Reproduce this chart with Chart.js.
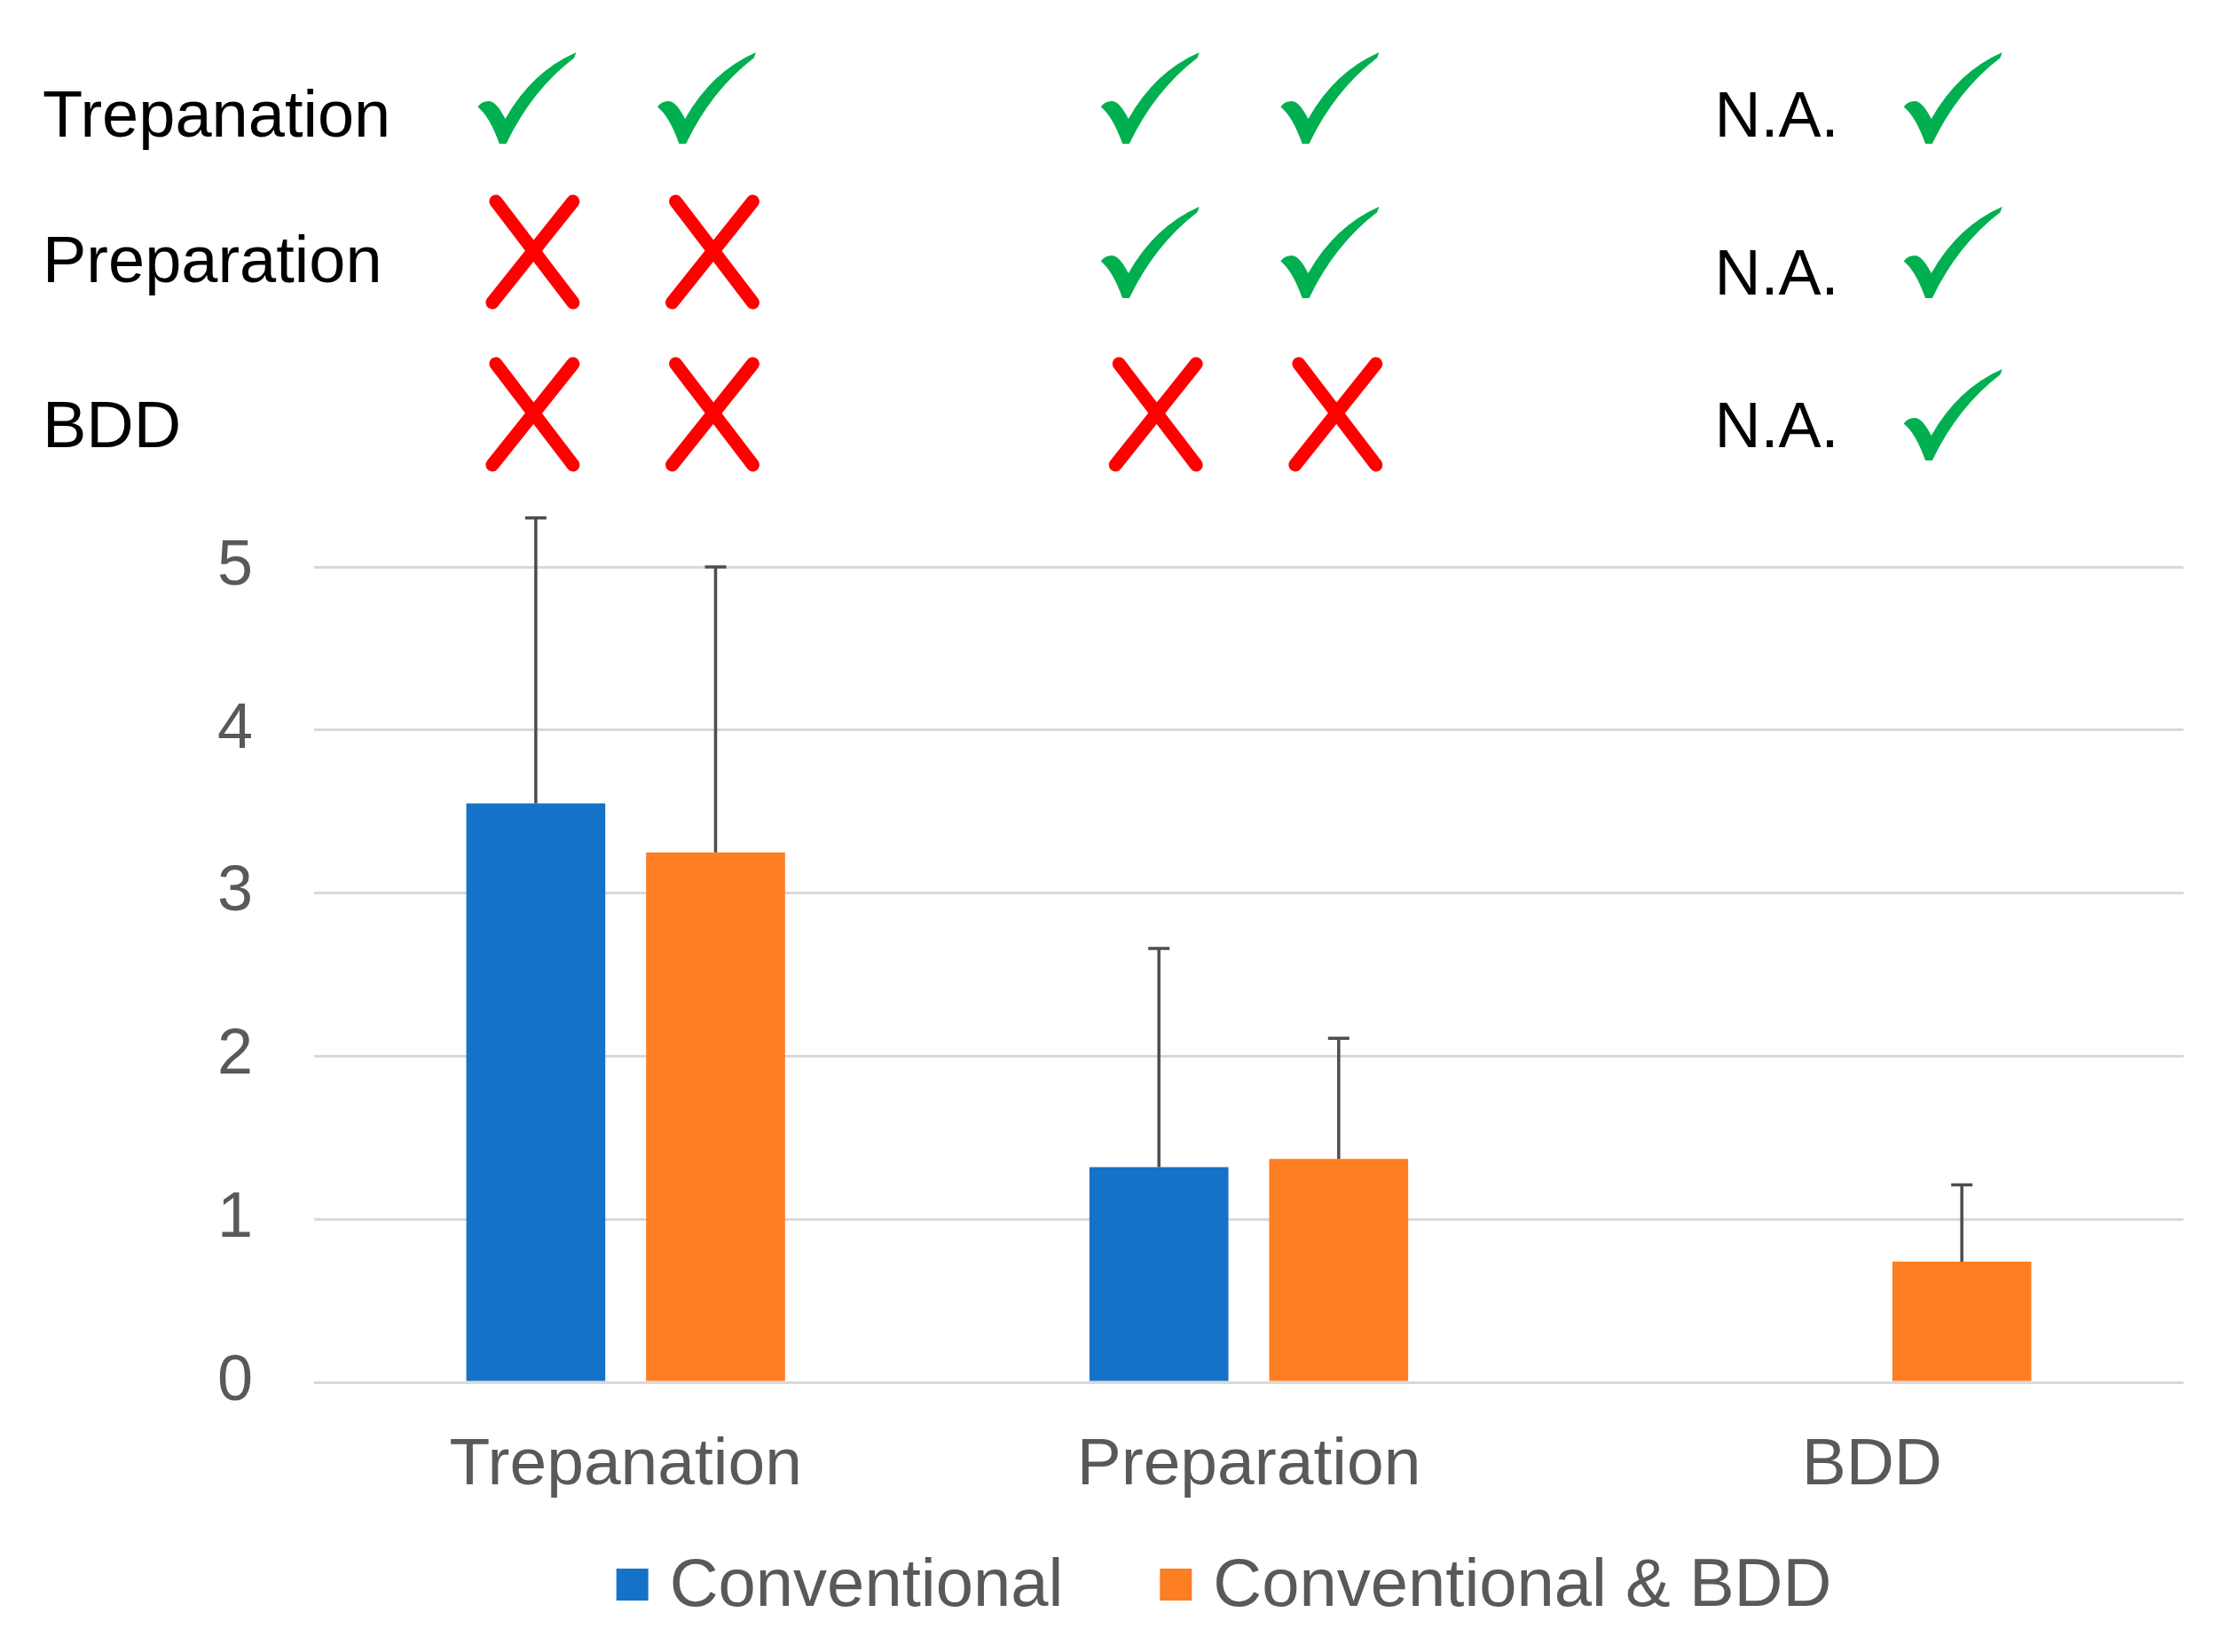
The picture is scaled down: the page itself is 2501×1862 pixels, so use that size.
<!DOCTYPE html>
<html>
<head>
<meta charset="utf-8">
<script src="https://cdn.jsdelivr.net/npm/chart.js@4/dist/chart.umd.min.js"></script>
<style>
  html, body { margin: 0; padding: 0; background: #fff; }
  #wrap { width: 2501px; height: 1862px; }
</style>
</head>
<body>
<div id="wrap"><canvas id="chart" width="2501" height="1862"></canvas></div>
<script>
const categories = ['Trepanation', 'Preparation', 'BDD'];
const seriesNames = ['Conventional', 'Conventional & BDD'];
const seriesColors = ['#1572C8', '#FD7E23'];
const conventionalMeans = [3.55, 1.32, null];
const conventionalErrors = [1.75, 1.34, null];
const comboMeans = [3.25, 1.37, 0.74];
const comboErrors = [1.75, 0.74, 0.47];
const yTicks = [0, 1, 2, 3, 4, 5];

// table above the bars: one entry per category, one value per row
const markRows = ['Trepanation', 'Preparation', 'BDD'];
const conventionalMarks = [
  ['yes', 'no', 'no'],
  ['yes', 'yes', 'no'],
  ['na', 'na', 'na']
];
const comboMarks = [
  ['yes', 'no', 'no'],
  ['yes', 'yes', 'no'],
  ['yes', 'yes', 'yes']
];

const FONT = "'Liberation Sans', Arial, sans-serif";
Chart.defaults.font.family = FONT;

// upward error bars, drawn from the y scale
const errorBars = {
  id: 'errorBars',
  afterDatasetsDraw(chart) {
    const ctx = chart.ctx;
    const y = chart.scales.y;
    const errs = [conventionalErrors, comboErrors];
    ctx.save();
    ctx.strokeStyle = '#4D4D4D';
    ctx.lineWidth = 3.5;
    chart.data.datasets.forEach((ds, i) => {
      const meta = chart.getDatasetMeta(i);
      meta.data.forEach((bar, j) => {
        const v = ds.data[j];
        if (v == null) return;
        const top = y.getPixelForValue(v + errs[i][j]);
        ctx.beginPath();
        ctx.moveTo(bar.x, bar.y);
        ctx.lineTo(bar.x, top);
        ctx.moveTo(bar.x - 12, top);
        ctx.lineTo(bar.x + 12, top);
        ctx.stroke();
      });
    });
    ctx.restore();
  }
};

// brush style check mark in a 111 x 104 box
function drawCheck(ctx, cx, cy) {
  const w = 111, h = 104;
  const x0 = cx - w / 2, y0 = cy - h / 2;
  const P = (u, v) => [x0 + u * w, y0 + v * h];
  ctx.beginPath();
  ctx.moveTo(...P(0, 0.6));
  ctx.quadraticCurveTo(...P(0.05, 0.53), ...P(0.13, 0.54));
  ctx.quadraticCurveTo(...P(0.2, 0.56), ...P(0.28, 0.73));
  ctx.quadraticCurveTo(...P(0.55, 0.22), ...P(1.0, 0.01));
  ctx.lineTo(...P(0.98, 0.07));
  ctx.quadraticCurveTo(...P(0.55, 0.42), ...P(0.29, 1.0));
  ctx.lineTo(...P(0.22, 1.0));
  ctx.quadraticCurveTo(...P(0.12, 0.7), ...P(0, 0.6));
  ctx.closePath();
  ctx.fillStyle = '#00B050';
  ctx.fill();
}

function drawCross(ctx, cx, cy) {
  ctx.save();
  ctx.strokeStyle = '#FF0000';
  ctx.lineWidth = 15;
  ctx.lineCap = 'round';
  ctx.beginPath();
  ctx.moveTo(cx - 43, cy - 57);
  ctx.lineTo(cx + 44, cy + 57);
  ctx.moveTo(cx + 44, cy - 57);
  ctx.lineTo(cx - 47, cy + 57);
  ctx.stroke();
  ctx.restore();
}

const markTable = {
  id: 'markTable',
  afterDraw(chart) {
    const ctx = chart.ctx;
    const xs = chart.scales.x;
    const labelBase = [154, 318, 504];
    const naBase = [154, 332, 504];
    const markY = [110, 284, 467];
    ctx.save();
    ctx.fillStyle = '#000';
    ctx.font = '74px ' + FONT;
    ctx.textAlign = 'left';
    ctx.textBaseline = 'alphabetic';
    markRows.forEach((r, k) => ctx.fillText(r, 48, labelBase[k]));

    const allMarks = [conventionalMarks, comboMarks];
    const slot = (xs.width / categories.length) * 0.577 / 2;
    allMarks.forEach((marks, i) => {
      marks.forEach((col, j) => {
        const x = xs.getPixelForValue(j) + (i - 0.5) * slot;
        col.forEach((m, k) => {
          if (m === 'yes') drawCheck(ctx, x - 10, markY[k]);
          else if (m === 'no') drawCross(ctx, x - 2, markY[k]);
          else {
            ctx.fillStyle = '#000';
            ctx.font = '72px ' + FONT;
            ctx.textAlign = 'center';
            ctx.fillText('N.A.', x - 6, naBase[k]);
          }
        });
      });
    });
    ctx.restore();
  }
};

// legend row under the axis labels
const bottomLegend = {
  id: 'bottomLegend',
  afterDraw(chart) {
    const ctx = chart.ctx;
    const box = 36, gap = 24, spacing = 109, cy = 1786;
    ctx.save();
    ctx.font = '76px ' + FONT;
    ctx.textBaseline = 'middle';
    ctx.textAlign = 'left';
    const widths = seriesNames.map(t => ctx.measureText(t).width);
    const total = widths.reduce((s, w) => s + box + gap + w, 0) + spacing;
    let x = (chart.chartArea.left + chart.chartArea.right) / 2 - 28 - total / 2;
    seriesNames.forEach((t, i) => {
      ctx.fillStyle = seriesColors[i];
      ctx.fillRect(x, cy - box / 2, box, box);
      ctx.fillStyle = '#595959';
      ctx.fillText(t, x + box + gap, cy + 3);
      x += box + gap + widths[i] + spacing;
    });
    ctx.restore();
  }
};

new Chart(document.getElementById('chart'), {
  type: 'bar',
  data: {
    labels: categories,
    datasets: [
      { label: seriesNames[0], data: conventionalMeans, backgroundColor: seriesColors[0] },
      { label: seriesNames[1], data: comboMeans, backgroundColor: seriesColors[1] }
    ]
  },
  options: {
    responsive: false,
    animation: false,
    devicePixelRatio: 1,
    layout: { padding: { left: 176, right: 40, top: 639, bottom: 124 } },
    datasets: { bar: { categoryPercentage: 0.577, barPercentage: 0.773 } },
    scales: {
      x: {
        grid: { display: false },
        border: { display: false },
        ticks: { color: '#595959', font: { size: 75 }, padding: 41 }
      },
      y: {
        min: 0,
        max: 5,
        afterBuildTicks(scale) { scale.ticks = yTicks.map(v => ({ value: v })); },
        grid: { color: '#D9D9D9', lineWidth: 3, drawTicks: false },
        border: { display: false },
        ticks: { color: '#595959', font: { size: 72 }, padding: 69 }
      }
    },
    plugins: {
      tooltip: { enabled: false },
      legend: { display: false }
    }
  },
  plugins: [errorBars, markTable, bottomLegend]
});
</script>
</body>
</html>
